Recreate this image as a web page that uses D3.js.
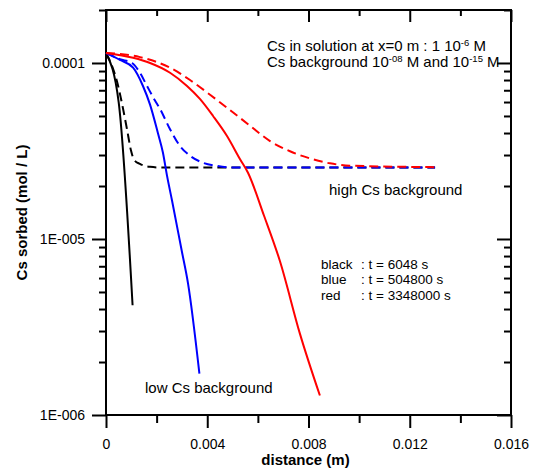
<!DOCTYPE html>
<html>
<head>
<meta charset="utf-8">
<script src="https://cdn.jsdelivr.net/npm/d3@7"></script>
<style>
  body { margin: 0; background: #fff; }
  text { font-family: "Liberation Sans", Arial, sans-serif; }
</style>
</head>
<body>
<svg id="canvas" width="537" height="470"></svg>
<script>
// distance (m) vs Cs sorbed (mol/L)
// solid = low Cs background, dashed = high Cs background
let blackLow = [[0, 1.14e-4], [0.0005, 6.0e-5], [0.00105, 4.2e-6]];
let blackHigh = [[0, 1.14e-4], [0.00024, 9.6e-5], [0.00043, 7.9e-5], [0.00063, 5.9e-5], [0.00083, 4.2e-5],
  [0.00099, 3.17e-5], [0.00111, 2.82e-5], [0.00134, 2.67e-5], [0.00174, 2.57e-5], [0.0021, 2.55e-5], [0.013, 2.55e-5]];
let blueLow = [[0, 1.14e-4], [0.00055, 1.04e-4], [0.00107, 9.4e-5], [0.00146, 7.4e-5], [0.00174, 5.8e-5],
  [0.00205, 4.0e-5], [0.00225, 3.09e-5], [0.00241, 2.29e-5], [0.00261, 1.65e-5], [0.00299, 8.6e-6],
  [0.00324, 5.6e-6], [0.00369, 1.72e-6]];
let blueHigh = [[0, 1.14e-4], [0.00055, 1.05e-4], [0.00103, 1.0e-4], [0.00134, 8.8e-5], [0.00162, 7.4e-5],
  [0.00194, 6.1e-5], [0.00213, 5.5e-5], [0.00253, 4.2e-5], [0.00292, 3.38e-5], [0.00332, 2.97e-5],
  [0.00383, 2.71e-5], [0.00439, 2.6e-5], [0.00502, 2.55e-5], [0.013, 2.55e-5]];
let redLow = [[0, 1.14e-4], [0.00107, 1.07e-4], [0.00174, 1.0e-4], [0.00253, 8.8e-5], [0.0032, 7.4e-5],
  [0.00371, 6.25e-5], [0.00423, 5.0e-5], [0.00478, 3.85e-5], [0.00529, 2.85e-5], [0.00561, 2.38e-5],
  [0.00624, 1.36e-5], [0.00687, 7.5e-6], [0.00766, 2.9e-6], [0.00845, 1.29e-6]];
let redHigh = [[0, 1.14e-4], [0.00134, 1.08e-4], [0.00253, 9.4e-5], [0.00332, 8.0e-5], [0.00411, 6.6e-5],
  [0.0049, 5.4e-5], [0.00569, 4.4e-5], [0.00648, 3.6e-5], [0.00727, 3.15e-5], [0.00806, 2.87e-5],
  [0.00885, 2.69e-5], [0.00964, 2.61e-5], [0.013, 2.56e-5]];

let xMajor = [0, 0.004, 0.008, 0.012, 0.016];
let xMinor = [0.002, 0.006, 0.010, 0.014];
let yMajor = [1e-6, 1e-5, 1e-4];
let yMajorLabels = ['1E-006', '1E-005', '0.0001'];
let timeLabels = [['black', ': t = 6048 s'], ['blue', ': t = 504800 s'], ['red', ': t = 3348000 s']];

let canvas = d3.select('#canvas');

let plotLeft = 106, plotRight = 511, plotTop = 10, plotBottom = 415;

let xScale = d3.scaleLinear().domain([0, 0.016]).range([plotLeft, plotRight]);
let yScale = d3.scaleLog().domain([1e-6, 2e-4]).range([plotBottom, plotTop]);

// minor log ticks 2..9 of each decade
let yMinor = [];
[1e-6, 1e-5, 1e-4].forEach((d) => {
    for (let k = 2; k <= 9; k++) {
        if (d * k <= 2e-4) yMinor.push(d * k);
    }
});

let styleAxis = (g) => {
    g.select('.domain').remove();
    g.selectAll('line').attr('stroke', '#000').attr('stroke-width', 2);
    g.selectAll('text').attr('font-size', 14).attr('fill', '#000')
        .style('font-family', '"Liberation Sans", Arial, sans-serif');
};

// bottom axis
canvas.append('g').attr('transform', 'translate(0,' + plotBottom + ')')
    .call(d3.axisBottom(xScale).tickValues(xMajor).tickSize(13).tickPadding(11)
        .tickFormat((d) => d === 0 ? '0' : d3.format('.3f')(d)))
    .call(styleAxis);
canvas.append('g').attr('transform', 'translate(0,' + plotBottom + ')')
    .call(d3.axisBottom(xScale).tickValues(xMinor).tickSize(8).tickFormat(''))
    .call(styleAxis);

// top axis, ticks pointing in
canvas.append('g').attr('transform', 'translate(0,' + plotTop + ')')
    .call(d3.axisTop(xScale).tickValues(xMajor).tickSize(-12).tickFormat(''))
    .call(styleAxis);
canvas.append('g').attr('transform', 'translate(0,' + plotTop + ')')
    .call(d3.axisTop(xScale).tickValues(xMinor).tickSize(-6).tickFormat(''))
    .call(styleAxis);

// left axis
canvas.append('g').attr('transform', 'translate(' + plotLeft + ',0)')
    .call(d3.axisLeft(yScale).tickValues(yMajor).tickSize(14).tickPadding(7)
        .tickFormat((d, i) => yMajorLabels[i]))
    .call(styleAxis);
canvas.append('g').attr('transform', 'translate(' + plotLeft + ',0)')
    .call(d3.axisLeft(yScale).tickValues(yMinor).tickSize(7).tickFormat(''))
    .call(styleAxis);

// right axis, ticks pointing in
canvas.append('g').attr('transform', 'translate(' + plotRight + ',0)')
    .call(d3.axisRight(yScale).tickValues(yMajor).tickSize(-14).tickFormat(''))
    .call(styleAxis);
canvas.append('g').attr('transform', 'translate(' + plotRight + ',0)')
    .call(d3.axisRight(yScale).tickValues(yMinor).tickSize(-7).tickFormat(''))
    .call(styleAxis);

// frame
canvas.append('rect')
    .attr('x', plotLeft).attr('y', plotTop)
    .attr('width', plotRight - plotLeft).attr('height', plotBottom - plotTop)
    .attr('fill', 'none').attr('stroke', '#000').attr('stroke-width', 2);

// curves
let line = d3.line()
    .x((d) => xScale(d[0]))
    .y((d) => yScale(d[1]))
    .curve(d3.curveMonotoneX);

let series = [
    { data: blackHigh, color: '#000000', dash: '9,5' },
    { data: blackLow, color: '#000000', dash: null },
    { data: blueHigh, color: '#0000ff', dash: '9,5' },
    { data: blueLow, color: '#0000ff', dash: null },
    { data: redHigh, color: '#ff0000', dash: '9,5' },
    { data: redLow, color: '#ff0000', dash: null }
];

canvas.selectAll('path.curve')
    .data(series)
    .enter()
    .append('path')
    .attr('class', 'curve')
    .attr('d', (s) => line(s.data))
    .attr('fill', 'none')
    .attr('stroke', (s) => s.color)
    .attr('stroke-width', 2)
    .attr('stroke-dasharray', (s) => s.dash);

// axis titles
canvas.append('text')
    .attr('x', (plotLeft + plotRight) / 2 - 3).attr('y', 465)
    .attr('text-anchor', 'middle')
    .attr('font-size', 15).attr('font-weight', 'bold')
    .text('distance (m)');

canvas.append('text')
    .attr('transform', 'translate(27,' + (plotTop + plotBottom) / 2 + ') rotate(-90)')
    .attr('text-anchor', 'middle')
    .attr('font-size', 15).attr('font-weight', 'bold')
    .text('Cs sorbed (mol / L)');

// annotations
let fs = 15;
let note = canvas.append('text').attr('x', 267).attr('y', 51).attr('font-size', fs);
note.append('tspan').text('Cs in solution at x=0 m : 1 10');
note.append('tspan').attr('font-size', 9.5).attr('dy', -5).text('-6');
note.append('tspan').attr('dy', 5).text(' M');
note.append('tspan').attr('x', 267).attr('dy', 16).text('Cs background 10');
note.append('tspan').attr('font-size', 9.5).attr('dy', -5).text('-08');
note.append('tspan').attr('dy', 5).text(' M and 10');
note.append('tspan').attr('font-size', 9.5).attr('dy', -5).text('-15');
note.append('tspan').attr('dy', 5).text(' M');

canvas.append('text').attr('x', 329).attr('y', 195).attr('font-size', fs)
    .text('high Cs background');

canvas.append('text').attr('x', 145).attr('y', 393).attr('font-size', fs)
    .text('low Cs background');

let legend = canvas.append('text').attr('font-size', 13.5);
timeLabels.forEach((t, i) => {
    legend.append('tspan').attr('x', 321).attr('y', 268.5 + i * 15.5).text(t[0]);
    legend.append('tspan').attr('x', 361).attr('y', 268.5 + i * 15.5).text(t[1]);
});
</script>
</body>
</html>
